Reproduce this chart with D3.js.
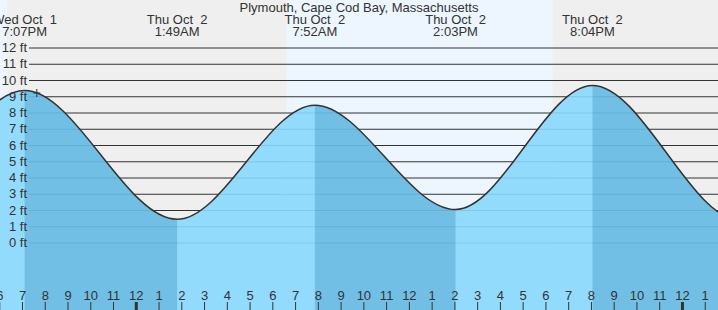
<!DOCTYPE html>
<html>
<head>
<meta charset="utf-8">
<script src="https://cdnjs.cloudflare.com/ajax/libs/d3/7.8.5/d3.min.js"></script>
<style>
  body { margin: 0; background: #efefef; overflow: hidden; }
  text { font-family: "Liberation Sans", Arial, sans-serif; font-size: 13px; fill: #333; white-space: pre; }
</style>
</head>
<body>
<div id="vis"></div>
<script>
var title = "Plymouth, Cape Cod Bay, Massachusetts";

// high / low tide predictions, local time, feet (first and last two are off-screen estimates)
var tideTimes = ["2025-10-01T06:35", "2025-10-01T12:50", "2025-10-01T19:07", "2025-10-02T01:49", "2025-10-02T07:52",
                 "2025-10-02T14:03", "2025-10-02T20:04", "2025-10-03T02:35", "2025-10-03T08:45"];
var tideHeights = [8.9, 2.2, 9.35, 1.43, 8.45, 2.03, 9.66, 1.35, 9.0];

// daylight periods (sunrise, sunset)
var daylight = [["2025-10-01T06:40", "2025-10-01T18:20"], ["2025-10-02T06:38", "2025-10-02T18:19"]];

// current time marker
var nowTime = "2025-10-01T19:39",
    nowHeight = 9.2;

var heightTicks = [0, 1, 2, 3, 4, 5, 6, 7, 8, 9, 10, 11, 12];
var viewStart = "2025-10-01T18:02",
    viewEnd = "2025-10-03T01:35";

var parse = d3.timeParse("%Y-%m-%dT%H:%M");
var fmtDay = d3.timeFormat("%a %b %e"),
    fmtTime = d3.timeFormat("%-I:%M%p"),
    fmtHour = d3.timeFormat("%-I");

var w = 718,
    h = 310,
    gridLeft = 29;

var tides = tideTimes.map(function(t, i) { return [parse(t), tideHeights[i]]; });

var x = d3.scaleTime().domain([parse(viewStart), parse(viewEnd)]).range([0, w]),
    y = d3.scaleLinear().domain([0, 12]).range([242.5, 47.5]);

var svg = d3.select("#vis")
  .append("svg")
    .attr("width", w)
    .attr("height", h);

// day / night background
svg.append("rect")
    .attr("width", w)
    .attr("height", h)
    .attr("fill", "#efefef");

svg.selectAll("rect.day")
    .data(daylight)
  .enter().append("rect")
    .attr("class", "day")
    .attr("x", function(d) { return x(parse(d[0])); })
    .attr("width", function(d) { return x(parse(d[1])) - x(parse(d[0])); })
    .attr("y", 0)
    .attr("height", h)
    .attr("fill", "#edf6fe");

// gridlines
var grid = svg.append("g")
    .attr("transform", "translate(" + w + ",0)")
    .call(d3.axisLeft(y).tickValues(heightTicks).tickSize(w - gridLeft).tickFormat(""));
grid.select(".domain").remove();
grid.selectAll("line").attr("stroke", "#333");

var area = d3.area()
    .x(function(d) { return x(d[0]); })
    .y0(h)
    .y1(function(d) { return y(d[1]); })
    .curve(d3.curveMonotoneX);

var line = d3.line()
    .x(function(d) { return x(d[0]); })
    .y(function(d) { return y(d[1]); })
    .curve(d3.curveMonotoneX);

svg.append("clipPath")
    .attr("id", "water")
  .append("path")
    .attr("d", area(tides));

svg.append("path")
    .attr("d", area(tides))
    .attr("fill", "rgb(136,216,253)")
    .attr("fill-opacity", 0.9);

// falling tide, high -> low
var falling = [];
tides.forEach(function(d, i) {
  if (i < tides.length - 1 && d[1] > tides[i + 1][1]) falling.push([d[0], tides[i + 1][0]]);
});

svg.append("g")
    .attr("clip-path", "url(#water)")
  .selectAll("rect")
    .data(falling)
  .enter().append("rect")
    .attr("x", function(d) { return x(d[0]); })
    .attr("width", function(d) { return x(d[1]) - x(d[0]); })
    .attr("y", 0)
    .attr("height", h)
    .attr("fill", "rgb(0,100,150)")
    .attr("fill-opacity", 0.23);

svg.append("path")
    .attr("d", line(tides))
    .attr("fill", "none")
    .attr("stroke", "#333")
    .attr("stroke-width", 1.5);

// height labels
var yLabels = svg.append("g")
    .attr("transform", "translate(" + (gridLeft - 2) + ",0)")
    .call(d3.axisLeft(y).tickValues(heightTicks).tickSize(0).tickPadding(0)
      .tickFormat(function(d) { return d + " ft"; }));
yLabels.select(".domain").remove();
yLabels.selectAll("text").attr("fill", "#333").attr("font-size", 13).attr("font-family", null);

// hour axis
var hours = d3.timeHour.range(d3.timeHour.floor(parse(viewStart)), parse(viewEnd));
var xAxis = svg.append("g")
    .attr("transform", "translate(0," + h + ")")
    .call(d3.axisTop(x).tickValues(hours).tickSize(8).tickPadding(2).tickFormat(fmtHour));
xAxis.select(".domain").remove();
xAxis.selectAll("line")
    .attr("stroke", "#333")
    .attr("stroke-width", function(d) { return d.getHours() === 0 ? 3 : 1; });
xAxis.selectAll("text").attr("fill", "#333").attr("font-size", 13).attr("font-family", null);

// title and high/low labels
svg.append("text")
    .attr("x", w / 2)
    .attr("y", 12)
    .attr("text-anchor", "middle")
    .text(title);

var shown = tides.filter(function(d) { return x(d[0]) >= 0 && x(d[0]) <= w; });
var labels = svg.selectAll("g.extreme")
    .data(shown)
  .enter().append("g")
    .attr("class", "extreme")
    .attr("transform", function(d) { return "translate(" + x(d[0]) + ",0)"; });
labels.append("text")
    .attr("y", 24)
    .attr("text-anchor", "middle")
    .text(function(d) { return fmtDay(d[0]); });
labels.append("text")
    .attr("y", 36)
    .attr("text-anchor", "middle")
    .text(function(d) { return fmtTime(d[0]); });

// now marker
var nx = x(parse(nowTime)),
    ny = y(nowHeight);
svg.append("path")
    .attr("d", "M" + (nx - 3.5) + "," + ny + "H" + (nx + 3.5) + "M" + nx + "," + (ny - 4) + "V" + (ny + 4))
    .attr("stroke", "#333")
    .attr("stroke-width", 1);
</script>
</body>
</html>
